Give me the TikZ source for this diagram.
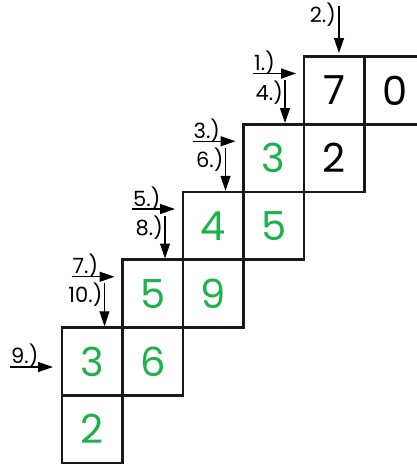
\documentclass[tikz,border=0pt]{standalone}
\usepackage{fontspec}
\setmainfont{Poppins}
\usetikzlibrary{arrows.meta}
\definecolor{dgreen}{RGB}{30,178,75}
\begin{document}
\begin{tikzpicture}[x=1pt,y=-1pt,
 cell/.style={draw=black!90, line width=2.6pt, minimum width=60.5pt, minimum height=67.75pt, inner sep=0pt, font=\fontsize{40}{40}\selectfont},
 gcell/.style={cell, text=dgreen},
 lbl/.style={inner sep=0pt, font=\fontsize{21}{21}\selectfont},
 arr/.style={line width=1.3pt, -{Triangle[length=15pt,width=10pt]}}]
\useasboundingbox (0,0) rectangle (417,467);
% cells
\node[cell] (c7) at (334.25,90.4) {7};
\node[cell,draw=none,outer sep=0pt] (c0) at (394.75,90.4) {0};
\coordinate (e1) at (417,56.525);
\coordinate (e2) at (417,124.275);
\draw[line width=2.6pt,black!90] (c0.north west) -- (e1);
\draw[line width=2.6pt,black!90] (c0.south west) -- (e2);
\node[gcell] (b3) at (273.75,158.1) {3};
\node[cell] (b2) at (334.25,158.1) {2};
\node[gcell] (d4) at (213.25,225.9) {4};
\node[gcell] (d5) at (273.75,225.9) {5};
\node[gcell] (f5) at (152.75,293.6) {5};
\node[gcell] (f9) at (213.25,293.6) {9};
\node[gcell] (g3) at (92.25,361.4) {3};
\node[gcell] (g6) at (152.75,361.4) {6};
\node[gcell] (h2) at (92.25,429.1) {2};
% arrow 2
\coordinate (a2s) at (339,6);
\coordinate (a2e) at (339,53);
\draw[arr] (a2s) -- (a2e);
\node[lbl,anchor=base east] (l2) at (336,22) {2.)};
% row A
\coordinate (a1s) at (253,73.5);
\coordinate (a1e) at (296,73.5);
\draw[arr] (a1s) -- (a1e);
\node[lbl,anchor=base west] (l1) at (254,70.5) {1.)};
\coordinate (a4s) at (285,80);
\coordinate (a4e) at (285,123);
\draw[arr] (a4s) -- (a4e);
\node[lbl,anchor=base east] (l4) at (283,100) {4.)};
% row B
\coordinate (a3s) at (192.5,141.25);
\coordinate (a3e) at (235.5,141.25);
\draw[arr] (a3s) -- (a3e);
\node[lbl,anchor=base west] (l3) at (193.5,138.25) {3.)};
\coordinate (a6s) at (225.5,148);
\coordinate (a6e) at (225.5,190.75);
\draw[arr] (a6s) -- (a6e);
\node[lbl,anchor=base east] (l6) at (223.5,167.25) {6.)};
% row C
\coordinate (a5s) at (132,209);
\coordinate (a5e) at (175,209);
\draw[arr] (a5s) -- (a5e);
\node[lbl,anchor=base west] (l5) at (133,206) {5.)};
\coordinate (a8s) at (165,215.5);
\coordinate (a8e) at (165,258.5);
\draw[arr] (a8s) -- (a8e);
\node[lbl,anchor=base east] (l8) at (163,235) {8.)};
% row D
\coordinate (a7s) at (71.5,276.75);
\coordinate (a7e) at (114.5,276.75);
\draw[arr] (a7s) -- (a7e);
\node[lbl,anchor=base west] (l7) at (72.5,273.75) {7.)};
\coordinate (a10s) at (104.5,283);
\coordinate (a10e) at (104.5,326.25);
\draw[arr] (a10s) -- (a10e);
\node[lbl,anchor=base east] (l10) at (102.5,302.5) {10.)};
% row E
\coordinate (a9s) at (10,367);
\coordinate (a9e) at (53,367);
\draw[arr] (a9s) -- (a9e);
\node[lbl,anchor=base west] (l9) at (11,363.5) {9.)};
\end{tikzpicture}
\end{document}
